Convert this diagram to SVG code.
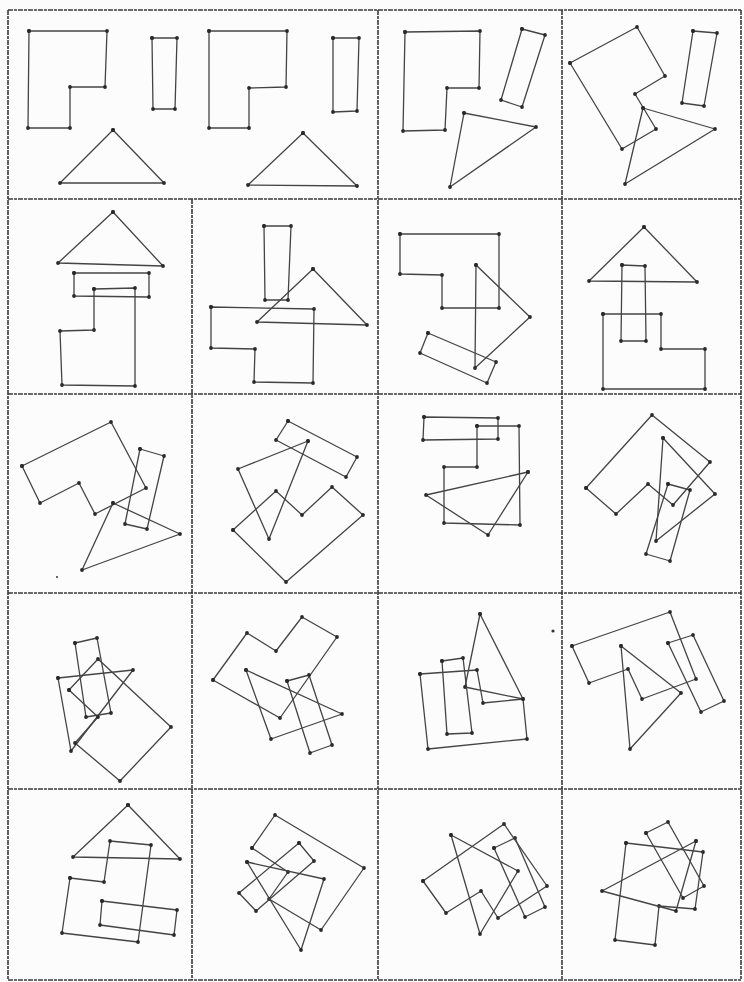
<svg xmlns="http://www.w3.org/2000/svg" width="744" height="982" viewBox="0 0 744 982">
<defs>
<marker id="dot" markerWidth="6" markerHeight="6" refX="3" refY="3" markerUnits="userSpaceOnUse">
<circle cx="3" cy="3" r="1.9" fill="#2a2a2a"/>
</marker>
<style>
.g{fill:none;stroke:#3a3a3a;stroke-width:1.6;stroke-dasharray:5 1 3 1}
.s{fill:none;stroke:#444;stroke-width:1.3;stroke-linejoin:round;marker-start:url(#dot);marker-mid:url(#dot);marker-end:url(#dot)}
.sp{fill:#333}
</style>
</defs>
<rect width="744" height="982" fill="#fcfcfc"/>
<g id="grid">
<line class="g" x1="8" y1="10" x2="741" y2="10"/>
<line class="g" x1="8" y1="199" x2="741" y2="199"/>
<line class="g" x1="8" y1="394" x2="741" y2="394"/>
<line class="g" x1="8" y1="593" x2="741" y2="593"/>
<line class="g" x1="8" y1="789" x2="741" y2="789"/>
<line class="g" x1="8" y1="980" x2="741" y2="980"/>
<line class="g" x1="8" y1="10" x2="8" y2="980"/>
<line class="g" x1="192" y1="199" x2="192" y2="980"/>
<line class="g" x1="378" y1="10" x2="378" y2="980"/>
<line class="g" x1="562" y1="10" x2="562" y2="980"/>
<line class="g" x1="741" y1="10" x2="741" y2="980"/>
</g>
<g id="cell-r1c1">
<polygon class="s" points="29,31 107,31 105,87 70,87 70,128 28,128"/>
<polygon class="s" points="152,38 177,38 175,109 153,109"/>
<polygon class="s" points="113,130 164,183 60,183"/>
<polygon class="s" points="209,31 287,31 286,87 249,88 249,128 209,128"/>
<polygon class="s" points="333,38 359,38 357,111 333,112"/>
<polygon class="s" points="303,133 357,186 248,185"/>
</g>
<g id="cell-r1c3">
<polygon class="s" points="405,32 480,31 479,88 447,88 445,130 403,131"/>
<polygon class="s" points="522,29 545,35 522,107 501,100"/>
<polygon class="s" points="464,113 536,127 450,187"/>
</g>
<g id="cell-r1c4">
<polygon class="s" points="570,63 637,27 665,76 635,94 656,129 622,149"/>
<polygon class="s" points="693,31 717,33 704,106 682,103"/>
<polygon class="s" points="643,108 715,129 625,184"/>
</g>
<g id="cell-r2c1">
<polygon class="s" points="113,212 163,266 58,263"/>
<polygon class="s" points="74,273 149,273 149,297 74,296"/>
<polygon class="s" points="94,289 135,288 135,386 62,385 60,331 94,330"/>
</g>
<g id="cell-r2c2">
<polygon class="s" points="264,226 291,226 288,300 265,300"/>
<polygon class="s" points="313,269 367,325 257,322"/>
<polygon class="s" points="211,307 314,309 313,383 254,382 255,349 211,348"/>
</g>
<g id="cell-r2c3">
<polygon class="s" points="400,234 499,234 499,308 442,308 442,275 400,274"/>
<polygon class="s" points="476,265 530,317 475,368"/>
<polygon class="s" points="428,333 496,362 487,383 420,353"/>
</g>
<g id="cell-r2c4">
<polygon class="s" points="644,227 697,282 589,281"/>
<polygon class="s" points="622,265 645,266 646,341 621,341"/>
<polygon class="s" points="603,314 661,314 661,349 705,349 705,389 603,389"/>
</g>
<g id="cell-r3c1">
<polygon class="s" points="22,466 111,422 146,488 95,514 79,483 40,503"/>
<polygon class="s" points="140,449 164,456 147,529 125,524"/>
<polygon class="s" points="113,503 180,534 82,570"/>
<circle class="sp" cx="57" cy="577" r="1"/>
</g>
<g id="cell-r3c2">
<polygon class="s" points="288,421 357,457 346,477 276,440"/>
<polygon class="s" points="308,441 238,469 269,539"/>
<polygon class="s" points="233,530 276,491 302,515 332,487 363,515 286,582"/>
</g>
<g id="cell-r3c3">
<polygon class="s" points="424,417 498,418 498,439 423,440"/>
<polygon class="s" points="477,426 519,426 520,525 444,523 444,467 477,467"/>
<polygon class="s" points="528,472 488,535 426,495"/>
</g>
<g id="cell-r3c4">
<polygon class="s" points="586,488 652,415 710,462 673,505 648,484 616,514"/>
<polygon class="s" points="663,438 715,494 656,541"/>
<polygon class="s" points="668,484 690,490 670,561 646,554"/>
</g>
<g id="cell-r4c1">
<polygon class="s" points="75,643 97,638 111,713 86,717"/>
<polygon class="s" points="58,678 133,670 71,751"/>
<polygon class="s" points="69,690 98,659 171,727 120,781 75,743 98,717"/>
</g>
<g id="cell-r4c2">
<polygon class="s" points="213,680 247,633 276,651 302,617 337,637 280,718"/>
<polygon class="s" points="246,670 342,714 271,739"/>
<polygon class="s" points="287,681 309,675 332,745 310,753"/>
</g>
<g id="cell-r4c3">
<polygon class="s" points="480,614 523,699 465,687"/>
<polygon class="s" points="420,674 477,670 483,703 523,699 527,739 428,749"/>
<polygon class="s" points="442,661 463,658 472,733 447,734"/>
<circle class="sp" cx="553" cy="631" r="1.6"/>
</g>
<g id="cell-r4c4">
<polygon class="s" points="572,646 670,612 696,679 642,699 628,669 589,683"/>
<polygon class="s" points="621,646 681,693 630,749"/>
<polygon class="s" points="668,643 693,635 724,701 701,712"/>
</g>
<g id="cell-r5c1">
<polygon class="s" points="128,805 180,859 73,857"/>
<polygon class="s" points="70,878 104,882 110,841 151,845 138,942 62,933"/>
<polygon class="s" points="102,901 177,910 174,935 100,925"/>
</g>
<g id="cell-r5c2">
<polygon class="s" points="252,848 275,815 364,868 321,930 269,899 288,872"/>
<polygon class="s" points="299,843 314,861 256,911 239,893"/>
<polygon class="s" points="247,862 324,879 301,950"/>
</g>
<g id="cell-r5c3">
<polygon class="s" points="494,848 515,838 545,907 525,917"/>
<polygon class="s" points="451,835 518,871 480,934"/>
<polygon class="s" points="423,881 504,824 547,886 498,918 481,891 446,913"/>
</g>
<g id="cell-r5c4">
<polygon class="s" points="646,833 668,822 704,886 683,898"/>
<polygon class="s" points="626,843 703,852 695,909 659,906 655,945 615,940"/>
<polygon class="s" points="696,841 602,891 676,911"/>
</g>
</svg>
